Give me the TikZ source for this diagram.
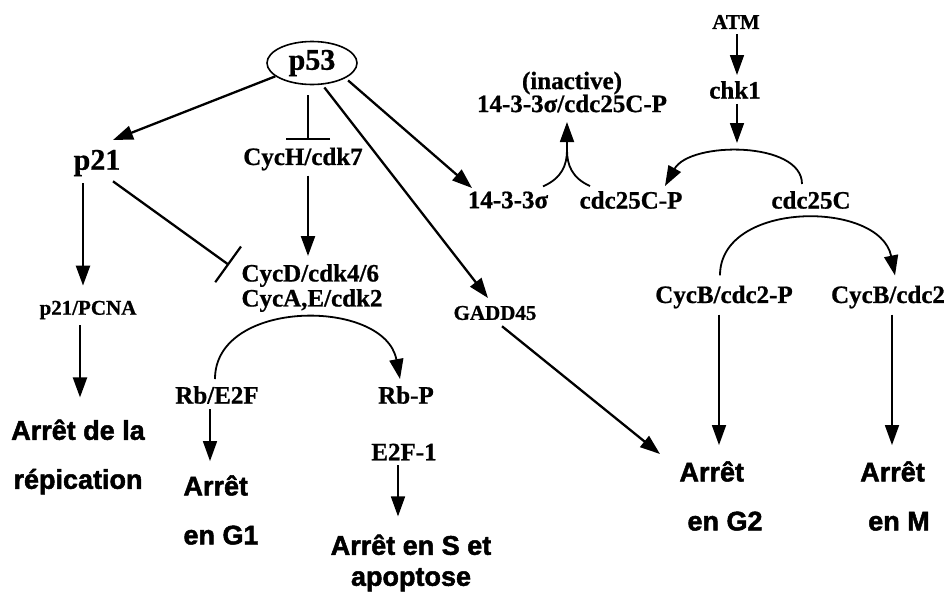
\documentclass[tikz,border=0pt]{standalone}
\usepackage{fontspec}
\setmainfont{Liberation Serif}[BoldFeatures={FakeBold=0.8}]
\newfontfamily\heavy{Liberation Sans}[BoldFeatures={FakeBold=1.8}]
\usetikzlibrary{arrows.meta,shapes.geometric}
\begin{document}
\begin{tikzpicture}[x=1pt,y=-1pt,
  lbl/.style={inner sep=0pt,font=\bfseries\fontsize{25}{25}\selectfont},
  big/.style={inner sep=0pt,font=\bfseries\fontsize{30}{30}\selectfont},
  small/.style={inner sep=0pt,font=\bfseries\fontsize{21}{21}\selectfont},
  res/.style={inner sep=0pt,font=\heavy\bfseries\fontsize{27}{49}\selectfont},
  tip/.style={-{Triangle[length=20pt,width=14pt]}},
  arr/.style={line width=2.3pt,tip},
  tarr/.style={line width=1.7pt,tip},
  carr/.style={line width=1.8pt,tip},
  cline/.style={line width=1.8pt},
  inh/.style={line width=2.3pt,-{Bar[width=44pt,line width=2.2pt]}}]
\useasboundingbox[fill=white] (0,0) rectangle (946,592);
% nodes
\node[ellipse,draw,line width=1.6pt,minimum width=90pt,minimum height=43pt,inner sep=0pt,
  font=\bfseries\fontsize{30}{30}\selectfont] (p53) at (312,63) {p53};
\node[big] (p21) at (97,163) {p21};
\node[lbl] (cych) at (303,159) {CycH/cdk7};
\node[lbl,align=left,font=\bfseries\fontsize{25}{25}\selectfont] (cycd) at (312,288) {CycD/cdk4/6\\CycA,E/cdk2};
\node[small] (pcna) at (88,310) {p21/PCNA};
\node[lbl] (rbe2f) at (217,395) {Rb/E2F};
\node[lbl] (rbp) at (406,395) {Rb-P};
\node[lbl] (e2f1) at (404,452) {E2F-1};
\node[small] (gadd) at (495,313) {GADD45};
\node[lbl,align=center,font=\bfseries\fontsize{25}{23}\selectfont] (cplx) at (572,92) {(inactive)\\14-3-3σ/cdc25C-P};
\node[lbl] (s1433) at (508,200) {14-3-3σ};
\node[lbl] (cdcp) at (631,200) {cdc25C-P};
\node[lbl] (cdc) at (811,200) {cdc25C};
\node[small] (atm) at (736,22) {ATM};
\node[lbl] (chk1) at (735,90) {chk1};
\node[lbl] (cycbp) at (724,297) {CycB/cdc2-P};
\node[lbl] (cycb) at (888,297) {CycB/cdc2};
\node[res,align=center] (repl) at (78,457) {Arrêt de la\\répication};
\node[res,align=left] (g1) at (221,510) {Arrêt\\en G1};
\node[res,align=center,font=\heavy\bfseries\fontsize{27}{31}\selectfont] (sap) at (411,563) {Arrêt en S et\\apoptose};
\node[res,align=left] (g2) at (721,496) {Arrêt\\\hspace*{8pt}en G2};
\node[res,align=left] (gm) at (895,496) {Arrêt\\\hspace*{8pt}en M};
% connector end points
\coordinate (p21in) at (113,140);
\coordinate (cychbar) at (308,140);
\coordinate (cycdin) at (308,256);
\coordinate (cycdbar) at (229,265);
\coordinate (s1433in) at (472,188);
\coordinate (gaddin) at (488,298);
\coordinate (g2in) at (660,454);
\coordinate (merge) at (567,150);
\coordinate (cplxin) at (567,122);
\coordinate (chkout) at (737,143);
% arrows
\draw[arr] (p53.200) -- (p21in);
\draw[inh] (p53.south -| cychbar) ++(0,10) -- (cychbar);
\draw[arr] (cych.south -| cycdin) ++(0,5) -- (cycdin);
\draw[inh] ([shift={(16,5)}]p21.south) -- (cycdbar);
\draw[arr] ([shift={(-14,7)}]p21.south) -- ([shift={(-5,-15)}]pcna.north);
\draw[arr] ([shift={(-8,6)}]pcna.south) -- ([shift={(2,-22)}]repl.north);
\draw[arr] (p53.-25) ++(3,2) -- (s1433in);
\draw[arr] (p53.-60) ++(0,3) -- (gaddin);
\draw[arr] ([shift={(7,6)}]gadd.south) -- (g2in);
\draw[tarr] ([shift={(-7,5)}]rbe2f.south) -- ([shift={(-11,-14)}]g1.north);
\draw[tarr] ([shift={(-6,5)}]e2f1.south) -- ([shift={(-13,-18)}]sap.north);
\draw[tarr] ([shift={(1,5)}]atm.south) -- ([shift={(2,-6)}]chk1.north);
\draw[tarr] ([shift={(2,5)}]chk1.south) -- (chkout);
\draw[tarr] ([shift={(-5,6)}]cycbp.south) -- ([shift={(-2,-16)}]g2.north);
\draw[tarr] ([shift={(4,6)}]cycb.south) -- ([shift={(-3,-16)}]gm.north);
% curved arrows
\draw[carr]
  ([shift={(-2,-7)}]rbe2f.north) .. controls (215,298) and (385,298) .. ([shift={(-6,-7)}]rbp.north);
\draw[carr]
  ([shift={(-9,-7)}]cdc.north) .. controls (802,141) and (690,141) .. ([shift={(34,-5)}]cdcp.north);
\draw[carr]
  ([shift={(-4,-10)}]cycbp.north) .. controls (720,200) and (880,200) .. ([shift={(7,-10)}]cycb.north);
\draw[cline] ([shift={(35,-5)}]s1433.north) .. controls (562,178) and (567,165) .. (merge);
\draw[cline] ([shift={(-41,-5)}]cdcp.north) .. controls (572,178) and (567,165) .. (merge);
\draw[carr] (merge) -- (cplxin);
\end{tikzpicture}
\end{document}
